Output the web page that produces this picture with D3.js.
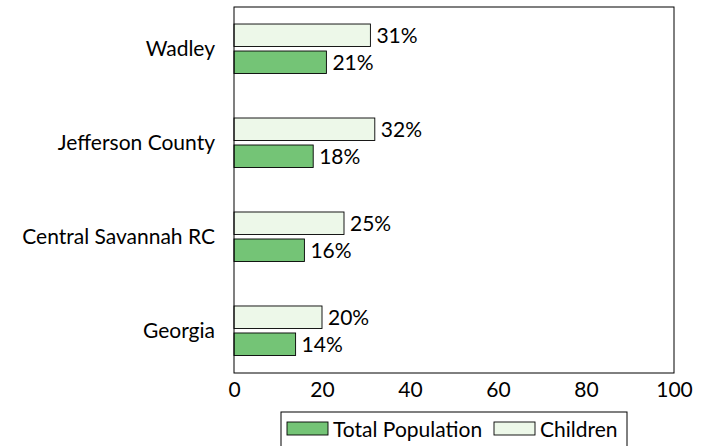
<!DOCTYPE html>
<html>
<head>
<meta charset="utf-8">
<script src="https://cdn.jsdelivr.net/npm/d3@7"></script>
<style>
  body { margin: 0; background: #fff; }
  text { font-family: Lato, "DejaVu Sans", sans-serif; fill: #000; }
</style>
</head>
<body>
<div id="chart"></div>
<script>
// data
const places = ["Wadley", "Jefferson County", "Central Savannah RC", "Georgia"];
const totalPop = [21, 18, 16, 14];
const children = [31, 32, 25, 20];
const xTicks = [0, 20, 40, 60, 80, 100];

const svgWidth = 709;
const svgHeight = 446;

const margin = { top: 7, right: 35, bottom: 73, left: 234 };
const width = svgWidth - margin.left - margin.right;
const height = svgHeight - margin.top - margin.bottom;

const fontSize = 21;
const totalColor = "#74c476";
const childColor = "#edf8e9";

const svg = d3.select("#chart")
  .append("svg")
  .attr("width", svgWidth)
  .attr("height", svgHeight);

const chartGroup = svg.append("g")
  .attr("transform", `translate(${margin.left}, ${margin.top})`);

const xScale = d3.scaleLinear()
  .domain([0, 100])
  .range([0, width]);

const yScale = d3.scalePoint()
  .domain(places)
  .range([0, height])
  .padding(0.447);

const barH = 22.5;

// children bar sits above, total population bar below
const rows = places.map((p, i) => ({ place: p, total: totalPop[i], child: children[i] }));

chartGroup.selectAll("rect.child")
  .data(rows)
  .enter()
  .append("rect")
  .attr("class", "child")
  .attr("x", 0)
  .attr("y", d => yScale(d.place) - barH - 2.5)
  .attr("width", d => xScale(d.child))
  .attr("height", barH)
  .attr("fill", childColor)
  .attr("stroke", "#000")
  .attr("stroke-width", 0.9);

chartGroup.selectAll("rect.total")
  .data(rows)
  .enter()
  .append("rect")
  .attr("class", "total")
  .attr("x", 0)
  .attr("y", d => yScale(d.place) + 2)
  .attr("width", d => xScale(d.total))
  .attr("height", barH)
  .attr("fill", totalColor)
  .attr("stroke", "#000")
  .attr("stroke-width", 0.9);

// value labels
chartGroup.selectAll("text.childLbl")
  .data(rows)
  .enter()
  .append("text")
  .attr("x", d => xScale(d.child) + 6)
  .attr("y", d => yScale(d.place) - barH / 2 - 2.5)
  .attr("dy", "0.36em")
  .attr("font-size", fontSize)
  .text(d => d.child + "%");

chartGroup.selectAll("text.totalLbl")
  .data(rows)
  .enter()
  .append("text")
  .attr("x", d => xScale(d.total) + 6)
  .attr("y", d => yScale(d.place) + 2 + barH / 2)
  .attr("dy", "0.36em")
  .attr("font-size", fontSize)
  .text(d => d.total + "%");

// frame
chartGroup.append("rect")
  .attr("x", 0)
  .attr("y", 0)
  .attr("width", width)
  .attr("height", height)
  .attr("fill", "none")
  .attr("stroke", "#000")
  .attr("stroke-width", 1);

// x axis, labels only
const bottomAxis = d3.axisBottom(xScale)
  .tickValues(xTicks)
  .tickSize(0)
  .tickPadding(9);

const xAxis = chartGroup.append("g")
  .attr("transform", `translate(0, ${height})`)
  .call(bottomAxis);
xAxis.select(".domain").remove();
xAxis.selectAll("text")
  .attr("font-size", fontSize)
  .attr("font-family", null);

// y axis, labels only
const leftAxis = d3.axisLeft(yScale)
  .tickSize(0)
  .tickPadding(19);

const yAxis = chartGroup.append("g").call(leftAxis);
yAxis.select(".domain").remove();
yAxis.selectAll("text")
  .attr("font-size", fontSize)
  .attr("font-family", null);

// legend
const legend = svg.append("g")
  .attr("transform", "translate(281, 412)");

legend.append("rect")
  .attr("x", 0)
  .attr("y", 0)
  .attr("width", 346)
  .attr("height", 40)
  .attr("fill", "#fff")
  .attr("stroke", "#000")
  .attr("stroke-width", 1);

const legendItems = [
  { label: "Total Population", color: totalColor, x: 6 },
  { label: "Children", color: childColor, x: 213 }
];

legendItems.forEach(item => {
  legend.append("rect")
    .attr("x", item.x)
    .attr("y", 10)
    .attr("width", 41)
    .attr("height", 13)
    .attr("fill", item.color)
    .attr("stroke", "#000")
    .attr("stroke-width", 0.9);
  legend.append("text")
    .attr("x", item.x + 46)
    .attr("y", 17)
    .attr("dy", "0.36em")
    .attr("font-size", fontSize)
    .text(item.label);
});
</script>
</body>
</html>
